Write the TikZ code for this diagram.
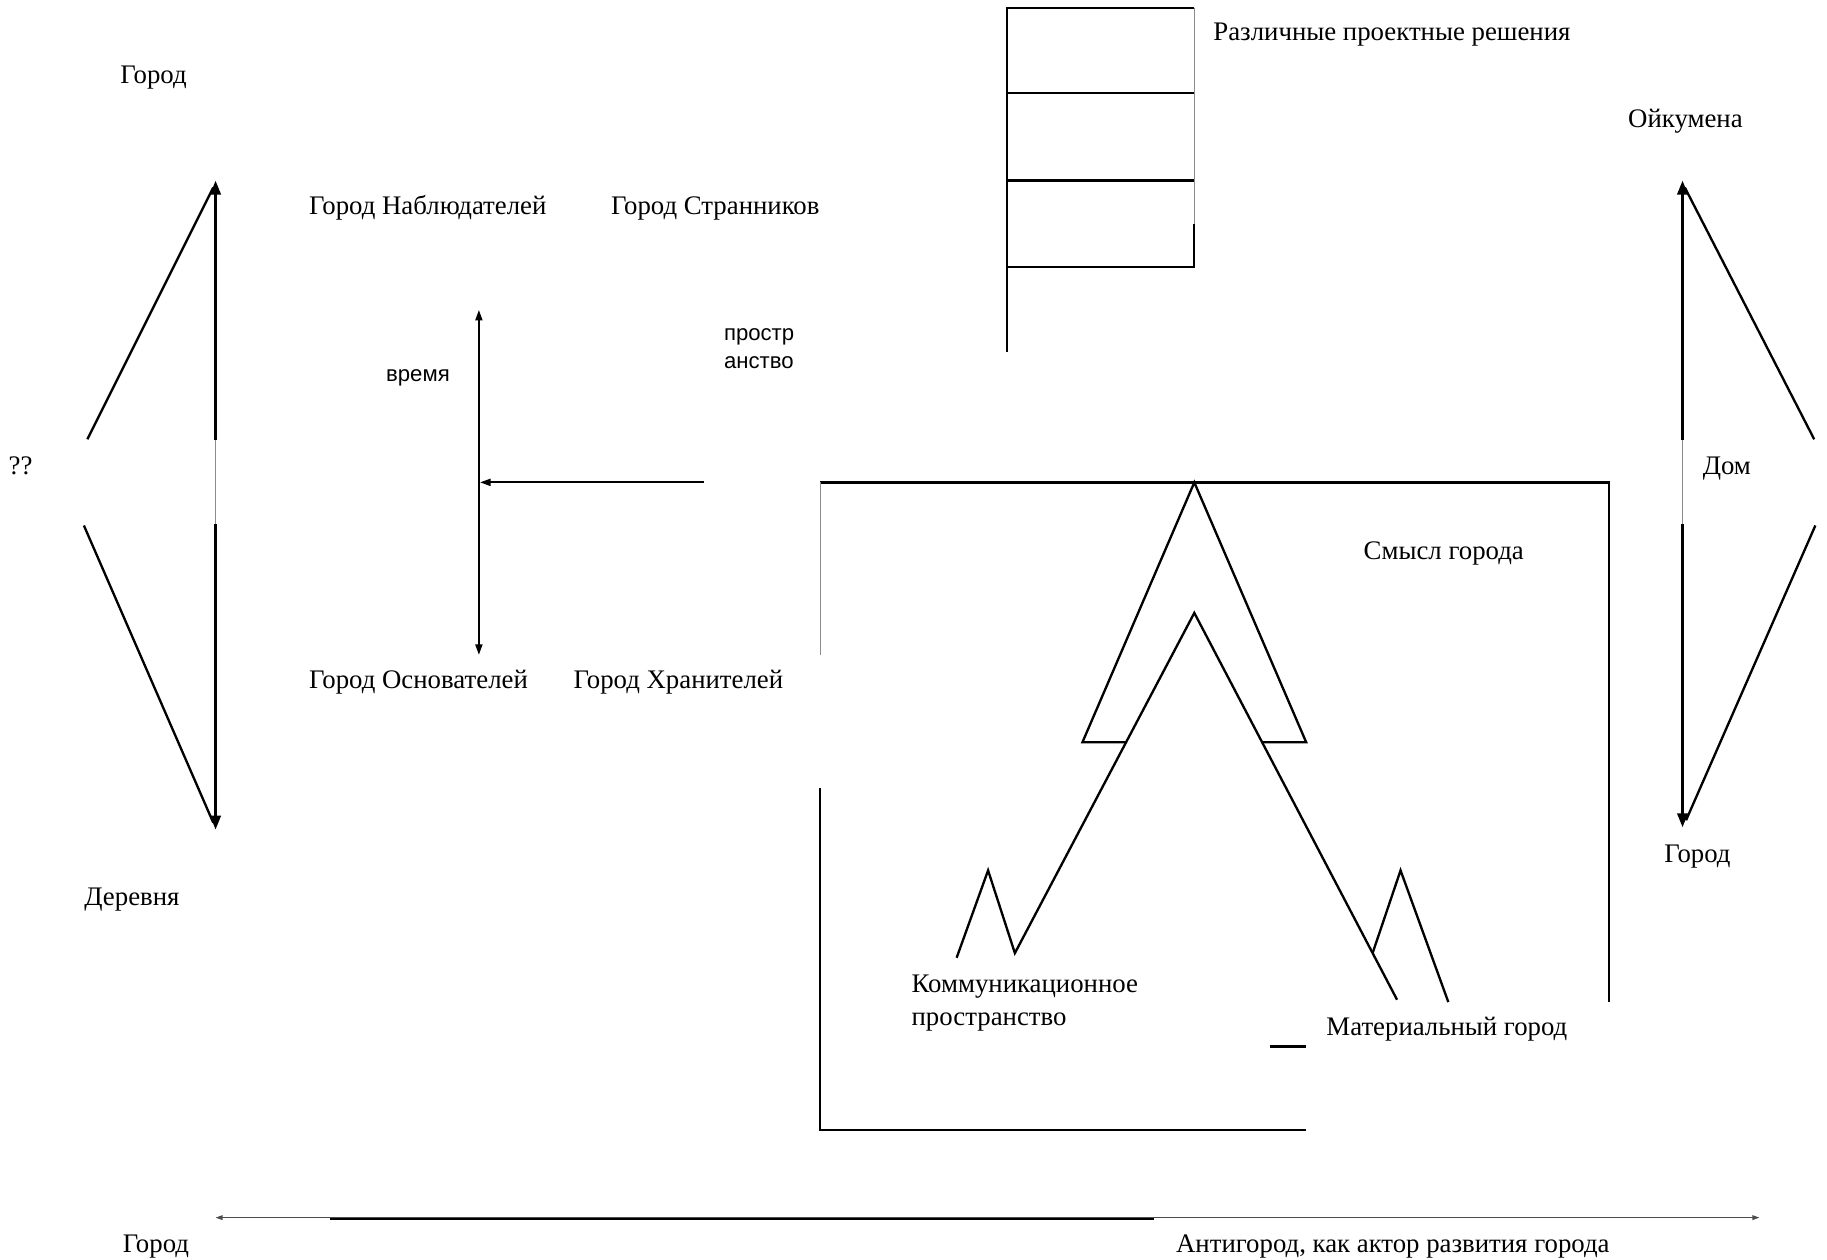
\documentclass[tikz,border=0pt]{standalone}
\usepackage{fontspec}
\setmainfont{Liberation Serif}
\newfontfamily\arialfont{Liberation Sans}
\usetikzlibrary{arrows.meta}
\begin{document}
\begin{tikzpicture}[x=0.5pt,y=-0.5pt,
  ln/.style={line width=1pt,line cap=butt},
  faint/.style={line width=0.5pt,black!45},
  lbl/.style={font=\fontsize{11.5}{14}\selectfont,inner sep=0pt,anchor=base west},
  sans/.style={font=\arialfont\fontsize{9.5}{12}\selectfont,inner sep=0pt,anchor=base west},
  bigtip/.style={-{Triangle[length=6pt,width=4.5pt]}},
  smalltip/.style={{Triangle[length=4.5pt,width=3pt]}-{Triangle[length=4.5pt,width=3pt]}},
]
\useasboundingbox (0,0) rectangle (1568,1081);

% ---------- left: Город / ?? / Деревня ----------
\coordinate (LT) at (185,155);
\coordinate (LB) at (185,712);
\coordinate (LM1) at (185,378);
\coordinate (LM2) at (185,450);
\coordinate (LU) at (75,377);
\coordinate (LD) at (72,451);
\coordinate (LTd) at (183,161);
\coordinate (LBd) at (183,706);
\draw[ln,bigtip] (LM1) -- (LT);
\draw[ln,bigtip] (LM2) -- (LB);
\draw[faint] (LM1) -- (LM2);
\draw[ln] (LU) -- (LTd);
\draw[ln] (LD) -- (LBd);
\node[lbl] (gorod1) at (103,72) {Город};
\node[lbl] (qq) at (7,407) {??};
\node[lbl] (derevnya) at (72,777) {Деревня};

% ---------- time / space cross ----------
\coordinate (TT) at (411,266);
\coordinate (TB) at (411,562);
\coordinate (HS) at (604,414);
\coordinate (HE) at (412,414);
\draw[line width=0.8pt,smalltip] (TB) -- (TT);
\draw[line width=0.8pt,-{Triangle[length=4.5pt,width=3pt]}] (HS) -- (HE);
\node[lbl] (nabl) at (265,184) {Город Наблюдателей};
\node[lbl] (stran) at (524,184) {Город Странников};
\node[lbl] (osnov) at (265,591) {Город Основателей};
\node[lbl] (hran) at (492,591) {Город Хранителей};
\node[sans] (vremya) at (331,327) {время};
\node[sans] (prostr1) at (621,292) {простр};
\node[sans] (prostr2) at (621,316) {анство};

% ---------- stacked boxes ----------
\coordinate (B0) at (864,7);
\coordinate (B0r) at (1025,7);
\coordinate (B1) at (864,80);
\coordinate (B1r) at (1025,80);
\coordinate (B2) at (864,155);
\coordinate (B2r) at (1025,155);
\coordinate (B3) at (864,229);
\coordinate (B3r) at (1025,229);
\coordinate (Bm) at (1025,192);
\coordinate (Bbot) at (864,302);
\draw[ln] (Bbot) -- (B0) -- (B0r);
\draw[ln] (B1) -- (B1r);
\draw[ln] (B2) -- (B2r);
\draw[ln] (Bm) -- (B3r) -- (B3);
\draw[faint] (B0r) -- (Bm);
\node[lbl] (razl) at (1041,35) {Различные проектные решения};

% ---------- right: Ойкумена / Дом / Город ----------
\coordinate (RT) at (1444,155);
\coordinate (RB) at (1444,710);
\coordinate (RM1) at (1444,378);
\coordinate (RM2) at (1444,450);
\coordinate (RU) at (1557,377);
\coordinate (RD) at (1558,451);
\coordinate (RTd) at (1446,161);
\coordinate (RBd) at (1447,704);
\draw[ln,bigtip] (RM1) -- (RT);
\draw[ln,bigtip] (RM2) -- (RB);
\draw[faint] (RM1) -- (RM2);
\draw[ln] (RU) -- (RTd);
\draw[ln] (RD) -- (RBd);
\node[lbl] (oik) at (1397,109) {Ойкумена};
\node[lbl] (dom) at (1461,407) {Дом};
\node[lbl] (gorod2) at (1428,740) {Город};

% ---------- central frame ----------
\coordinate (F1) at (704,414);
\coordinate (F2) at (1381,414);
\coordinate (F3) at (1381,860);
\coordinate (F4) at (704,562);
\coordinate (F5) at (704,676);
\coordinate (F6) at (704,970);
\coordinate (F7) at (766,970);
\coordinate (F8) at (1090,970);
\coordinate (F9) at (1121,970);
\coordinate (S1) at (1090,898);
\coordinate (S2) at (1121,898);
\draw[ln] (F1) -- (F2) -- (F3);
\draw[faint] (F1) -- (F4);
\draw[ln] (F5) -- (F6) -- (F7);
\draw[line width=0.8pt] (F7) -- (F8);
\draw[ln] (F8) -- (F9);
\draw[ln] (S1) -- (S2);

% ---------- triangles ----------
\coordinate (A0) at (1025,414);
\coordinate (AL) at (929,637);
\coordinate (AR) at (1121,637);
\coordinate (ALi) at (966,637);
\coordinate (ARi) at (1083,637);
\coordinate (I0) at (1025,526);
\coordinate (IL) at (871,818);
\coordinate (IR) at (1199,858);
\coordinate (P1) at (821,822);
\coordinate (P2) at (848,747);
\coordinate (Q1) at (1178,818);
\coordinate (Q2) at (1202,747);
\coordinate (Q3) at (1243,860);
\draw[ln,line join=miter] (ALi) -- (AL) -- (A0) -- (AR) -- (ARi);
\draw[ln,line join=miter] (P1) -- (P2) -- (IL) -- (I0) -- (IR);
\draw[ln,line join=miter] (Q1) -- (Q2) -- (Q3);
\node[lbl] (smysl) at (1170,480) {Смысл города};
\node[lbl] (komm1) at (782,852) {Коммуникационное};
\node[lbl] (komm2) at (782,880) {пространство};
\node[lbl] (mater) at (1138,889) {Материальный город};

% ---------- bottom axis ----------
\coordinate (X1) at (185,1045);
\coordinate (X2) at (1510,1045);
\coordinate (X3) at (283,1046);
\coordinate (X4) at (990,1046);
\draw[line width=0.5pt,black!70,{Triangle[length=3pt,width=2pt]}-{Triangle[length=3pt,width=2pt]}] (X1) -- (X2);
\draw[ln] (X3) -- (X4);
\node[lbl] (gorod3) at (105,1075) {Город};
\node[lbl] (anti) at (1009,1075) {Антигород, как актор развития города};
\end{tikzpicture}
\end{document}
